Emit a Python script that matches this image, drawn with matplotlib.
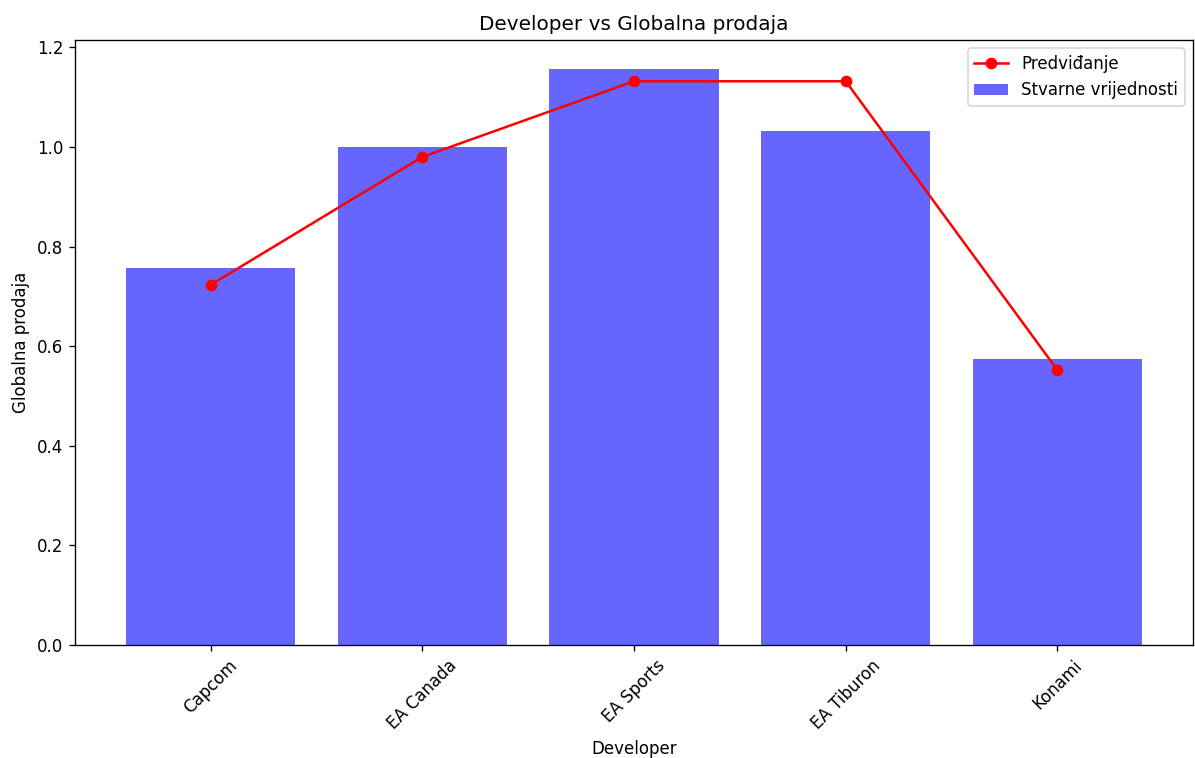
import matplotlib
matplotlib.use("Agg")
import matplotlib.pyplot as plt

developers = ["Capcom", "EA Canada", "EA Sports", "EA Tiburon", "Konami"]
stvarne = [0.757, 1.0, 1.157, 1.032, 0.574]
predvidanje = [0.723, 0.980, 1.132, 1.132, 0.552]

fig = plt.figure(figsize=(1195 / 120, 758 / 120), dpi=120)
ax = fig.add_axes([75 / 1195, 1 - 645 / 758, 1118 / 1195, 605 / 758])

ax.bar(developers, stvarne, color="blue", alpha=0.6, label="Stvarne vrijednosti")
ax.plot(developers, predvidanje, color="red", marker="o", label="Predviđanje")

ax.set_title("Developer vs Globalna prodaja")
ax.set_xlabel("Developer")
ax.set_ylabel("Globalna prodaja")
plt.setp(ax.get_xticklabels(), rotation=45)
ax.legend()

fig.savefig("out.png", dpi=120)
